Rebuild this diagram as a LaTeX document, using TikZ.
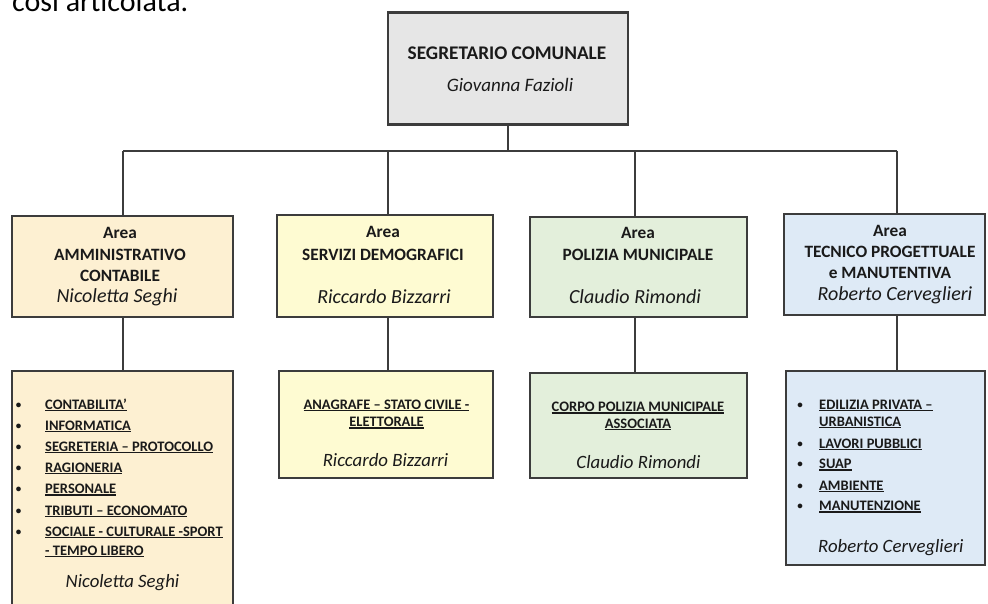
\documentclass[tikz,border=0pt]{standalone}
\usepackage{fontspec}
\setmainfont{Carlito}
\definecolor{txt}{HTML}{1A1A1A}
\definecolor{edge}{HTML}{3C3C3C}
\definecolor{fgray}{HTML}{E6E6E6}
\definecolor{forange}{HTML}{FDF0D2}
\definecolor{fyellow}{HTML}{FEFBD2}
\definecolor{fgreen}{HTML}{E3EFDB}
\definecolor{fblue}{HTML}{DEEAF6}
\newcommand\ulx[1]{\setbox0\hbox{#1}\rlap{\rule[-1.8pt]{\wd0}{1.2pt}}\box0}
\tikzset{
  boxthick/.style={draw=edge, line width=2.6pt, inner sep=0pt},
  boxthin/.style={draw=edge, line width=1.8pt, inner sep=0pt},
  conn/.style={draw=edge, line width=1.2pt},
  lbl/.style={inner sep=0pt, text=txt, anchor=base},
  lbll/.style={inner sep=0pt, text=txt, anchor=base west},
  hbig/.style={font=\fontsize{19.3}{23}\selectfont\bfseries},
  nbig/.style={font=\fontsize{19}{23}\selectfont\itshape},
  harea/.style={font=\fontsize{17.3}{20}\selectfont\bfseries},
  narea/.style={font=\fontsize{20}{24}\selectfont\itshape},
  item/.style={font=\fontsize{14.5}{17}\selectfont\bfseries},
  bul/.style={font=\fontsize{11}{13}\selectfont\bfseries},
  nlow/.style={font=\fontsize{18.8}{22}\selectfont\itshape},
}
\begin{document}
\begin{tikzpicture}[x=1pt,y=-1pt]
\useasboundingbox (0,0) rectangle (988,604);
\clip (0,0) rectangle (988,604);
\fill[white] (0,0) rectangle (988,604);

\node[lbll, font=\fontsize{30}{36}\selectfont, text=black] (intro) at (12,12) {così articolata.};

% boxes
\node[boxthick, fill=fgray, minimum width=240pt, minimum height=112pt] (top) at (508,68.5) {};
\node[boxthick, fill=forange, minimum width=221pt, minimum height=101pt] (a1) at (122.5,266.5) {};
\node[boxthick, fill=fyellow, minimum width=216pt, minimum height=102pt] (a2) at (385,266) {};
\node[boxthick, fill=fgreen, minimum width=217pt, minimum height=100pt] (a3) at (638.5,267) {};
\node[boxthick, fill=fblue, minimum width=201pt, minimum height=101pt] (a4) at (884.5,264.5) {};

\node[boxthin, fill=forange, minimum width=221pt, minimum height=249pt] (l1) at (122.5,495.5) {};
\node[boxthin, fill=fyellow, minimum width=214pt, minimum height=107pt] (l2) at (386,424.5) {};
\node[boxthin, fill=fgreen, minimum width=217pt, minimum height=105pt] (l3) at (638.5,425.5) {};
\node[boxthin, fill=fblue, minimum width=199pt, minimum height=194pt] (l4) at (885.5,468) {};

% connectors
\coordinate (bus) at (508,151);
\coordinate (c1) at (123,151);
\coordinate (c2) at (388,151);
\coordinate (c3) at (635,151);
\coordinate (c4) at (897,151);
\draw[conn] (top.south) -- (bus);
\draw[conn] (c1) -- (c4);
\draw[conn] (c1) -- (c1 |- a1.north);
\draw[conn] (c2) -- (c2 |- a2.north);
\draw[conn] (c3) -- (c3 |- a3.north);
\draw[conn] (c4) -- (c4 |- a4.north);
\draw[conn] (c1 |- a1.south) -- (c1 |- l1.north);
\draw[conn] (c2 |- a2.south) -- (c2 |- l2.north);
\draw[conn] (c3 |- a3.south) -- (c3 |- l3.north);
\draw[conn] (c4 |- a4.south) -- (c4 |- l4.north);

% top texts
\node[lbl, hbig] (t0a) at (507,60) {SEGRETARIO COMUNALE};
\node[lbl, nbig] (t0b) at (510,91.5) {Giovanna Fazioli};

% area 1
\node[lbl, harea] (t1a) at (120,239) {Area};
\node[lbl, harea] (t1b) at (120,260.5) {AMMINISTRATIVO};
\node[lbl, harea] (t1c) at (120,281.5) {CONTABILE};
\node[lbl, narea] (t1d) at (117,302.5) {Nicoletta Seghi};
% area 2
\node[lbl, harea] (t2a) at (383,238) {Area};
\node[lbl, harea] (t2b) at (383,260) {SERVIZI DEMOGRAFICI};
\node[lbl, narea] (t2c) at (384,303) {Riccardo Bizzarri};
% area 3
\node[lbl, harea] (t3a) at (638,239) {Area};
\node[lbl, harea] (t3b) at (638,261) {POLIZIA MUNICIPALE};
\node[lbl, narea] (t3c) at (635,303) {Claudio Rimondi};
% area 4
\node[lbl, harea] (t4a) at (890,236.5) {Area};
\node[lbl, harea] (t4b) at (890,257.5) {TECNICO PROGETTUALE};
\node[lbl, harea] (t4c) at (890,278.5) {e MANUTENTIVA};
\node[lbl, narea] (t4d) at (895,300) {Roberto Cerveglieri};

% lower 1
\foreach \y/\s [count=\i] in {409/{CONTABILITA’},430.2/{INFORMATICA},451.4/{SEGRETERIA – PROTOCOLLO},472.6/{RAGIONERIA},493.8/{PERSONALE},515/{TRIBUTI – ECONOMATO},536.5/{SOCIALE - CULTURALE -SPORT}}{
  \node[lbl, bul] (b1\i) at (18.5,\y-1) {•};
  \node[lbll, item] (i1\i) at (45,\y) {\ulx{\s}};
}
\node[lbll, item] (i18) at (45,555) {\ulx{- TEMPO LIBERO}};
\node[lbl, nlow] (n1) at (122.5,587) {Nicoletta Seghi};

% lower 2
\node[lbl, item] (i21) at (386.5,409.3) {\ulx{ANAGRAFE – STATO CIVILE -}};
\node[lbl, item] (i22) at (386.5,426.7) {\ulx{ELETTORALE}};
\node[lbl, nlow] (n2) at (385.5,466) {Riccardo Bizzarri};

% lower 3
\node[lbl, item] (i31) at (638,411.7) {\ulx{CORPO POLIZIA MUNICIPALE}};
\node[lbl, item] (i32) at (638,428.3) {\ulx{ASSOCIATA}};
\node[lbl, nlow] (n3) at (638.5,468) {Claudio Rimondi};

% lower 4
\node[lbl, bul] (b41) at (800,408) {•};
\node[lbll, item] (i41) at (819,409) {\ulx{EDILIZIA PRIVATA –}};
\node[lbll, item] (i42) at (819,426) {\ulx{URBANISTICA}};
\foreach \y/\s [count=\i] in {448/{LAVORI PUBBLICI},468.7/{SUAP},490/{AMBIENTE},510.7/{MANUTENZIONE}}{
  \node[lbl, bul] (b4\i x) at (800,\y-1) {•};
  \node[lbll, item] (i4\i x) at (819,\y) {\ulx{\s}};
}
\node[lbll, nlow] (n4) at (818,552.7) {Roberto Cerveglieri};
\end{tikzpicture}
\end{document}
